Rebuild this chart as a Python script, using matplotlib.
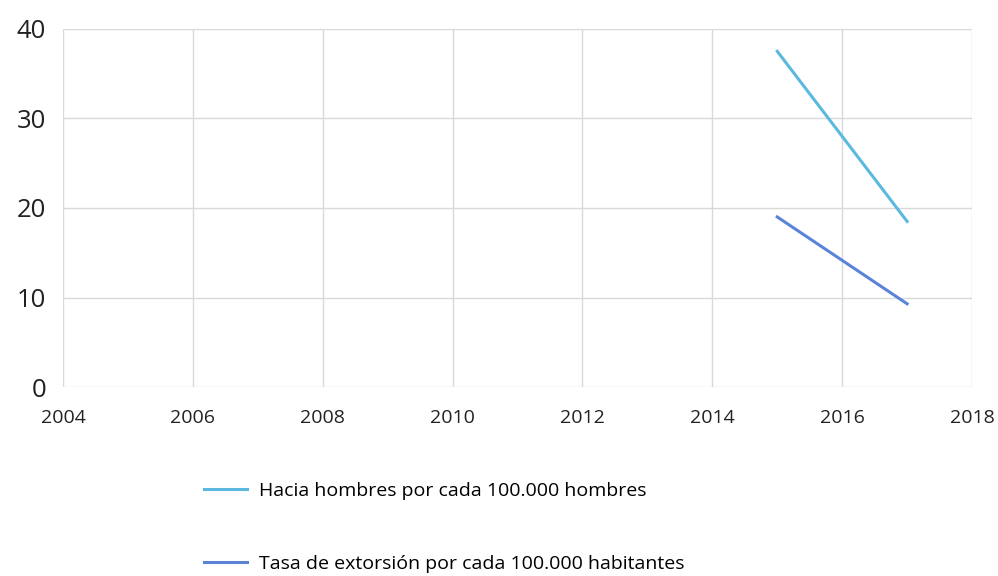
import matplotlib.pyplot as plt

years = [2015, 2017]
hombres = [37.5, 18.5]
extorsion = [19.0, 9.3]

labels = ["Hacia hombres por cada 100.000 hombres",
          "Tasa de extorsión por cada 100.000 habitantes"]
colors = ["#5bb8de", "#5b84d9"]

plt.rcParams['font.family'] = ['Open Sans', 'DejaVu Sans']

fig = plt.figure(figsize=(9.98, 5.76), dpi=100)
ax = fig.add_axes([0.0631, 0.328, 0.9109, 0.6218])

ax.plot(years, hombres, color=colors[0], lw=2.2, label=labels[0])
ax.plot(years, extorsion, color=colors[1], lw=2.2, label=labels[1])

ax.set_xlim(2004, 2018)
ax.set_ylim(0, 40)
ax.set_xticks(range(2004, 2019, 2))
ax.set_yticks(range(0, 41, 10))
ax.grid(True, color="#d9d9d9", lw=1)
ax.set_axisbelow(True)
for s in ax.spines.values():
    s.set_visible(False)
ax.tick_params(axis='both', length=0, colors="#222222")
ax.tick_params(axis='x', labelsize=14, pad=16)
ax.tick_params(axis='y', labelsize=18.5, pad=12)

fig.legend(loc='upper left', bbox_to_anchor=(0.187, 0.194), frameon=False,
           fontsize=14, labelspacing=2.85, handlelength=2.2, handletextpad=0.6)

fig.savefig("out.png", dpi=100)
